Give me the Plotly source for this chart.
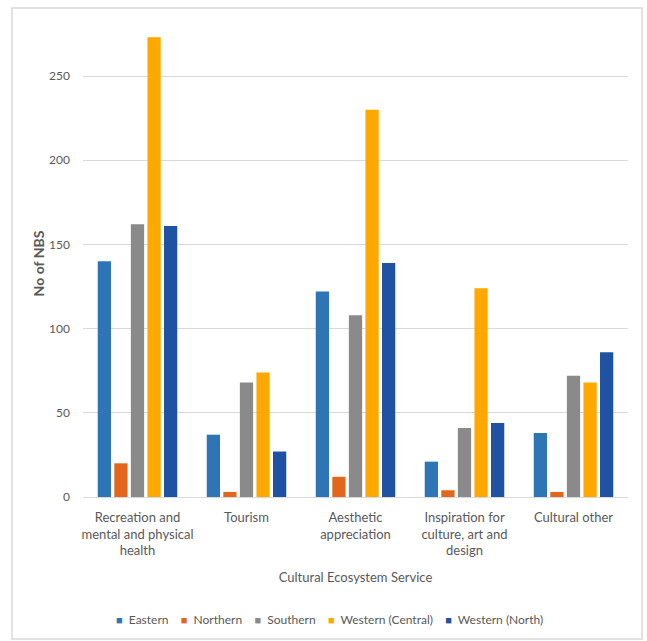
import plotly.graph_objects as go

# Cultural ecosystem services and number of NBS per region
categories = [
    "Recreation and<br>mental and physical<br>health",
    "Tourism",
    "Aesthetic<br>appreciation",
    "Inspiration for<br>culture, art and<br>design",
    "Cultural other",
]
eastern = [140, 37, 122, 21, 38]
northern = [20, 3, 12, 4, 3]
southern = [162, 68, 108, 41, 72]
western_central = [273, 74, 230, 124, 68]
western_north = [161, 27, 139, 44, 86]

series_names = ["Eastern", "Northern", "Southern", "Western (Central)", "Western (North)"]
series_values = [eastern, northern, southern, western_central, western_north]
series_colors = ["#2E75B6", "#E2661B", "#8A8A8A", "#FFA800", "#1F52A3"]

FONT = "Lato, 'Liberation Sans Narrow', sans-serif"
TEXT = "#595959"
GRID = "#D9D9D9"

fig = go.Figure()
for name, vals, col in zip(series_names, series_values, series_colors):
    fig.add_trace(go.Bar(
        name=name, x=categories, y=vals,
        marker=dict(color=col, line=dict(width=0)),
        showlegend=False,
    ))

# plot area in pixels: left 83, right 628, top 30, bottom 497
L, R, T, B = 83, 19, 30, 144
W, H = 647, 641
pw, ph = W - L - R, H - T - B


def px_x(x):
    return (x - L) / pw


def px_y(y):
    return (H - B - y) / ph


# compact legend row: coloured square + series name
gap = "&nbsp;" * 4
legend_text = gap.join(
    f"<span style='color:{c};font-size:11px'>■</span>&nbsp;&nbsp;{n}"
    for n, c in zip(series_names, series_colors)
)

fig.update_layout(
    width=W, height=H,
    margin=dict(l=L, r=R, t=T, b=B),
    paper_bgcolor="white", plot_bgcolor="white",
    barmode="group", bargap=0.24, bargroupgap=0.2,
    font=dict(family=FONT, color=TEXT, size=12),
    showlegend=False,
    xaxis=dict(
        showgrid=False, showline=True, linecolor=GRID, linewidth=1,
        ticks="", tickfont=dict(size=13, color=TEXT),
        ticklabelstandoff=8,
        title=dict(text="Cultural Ecosystem Service", font=dict(size=13, color=TEXT), standoff=15),
    ),
    yaxis=dict(
        range=[0, (H - B - T) / 1.684],
        tickvals=[0, 50, 100, 150, 200, 250],
        showgrid=True, gridcolor=GRID, gridwidth=1,
        zeroline=False, showline=False, ticks="",
        ticklabelstandoff=12,
        tickfont=dict(size=12, color=TEXT),
        title=dict(text="<b>No of NBS</b>", font=dict(size=14, color=TEXT), standoff=1),
    ),
    annotations=[dict(
        xref="paper", yref="paper", x=px_x(329), y=px_y(619),
        xanchor="center", yanchor="middle", showarrow=False,
        text=legend_text, font=dict(size=12, color=TEXT),
    )],
    shapes=[dict(
        type="rect", xref="paper", yref="paper",
        x0=px_x(12), x1=px_x(642), y0=px_y(639), y1=px_y(8),
        line=dict(color=GRID, width=1.5), fillcolor="rgba(0,0,0,0)", layer="below",
    )],
)

fig.write_html("out.html")
